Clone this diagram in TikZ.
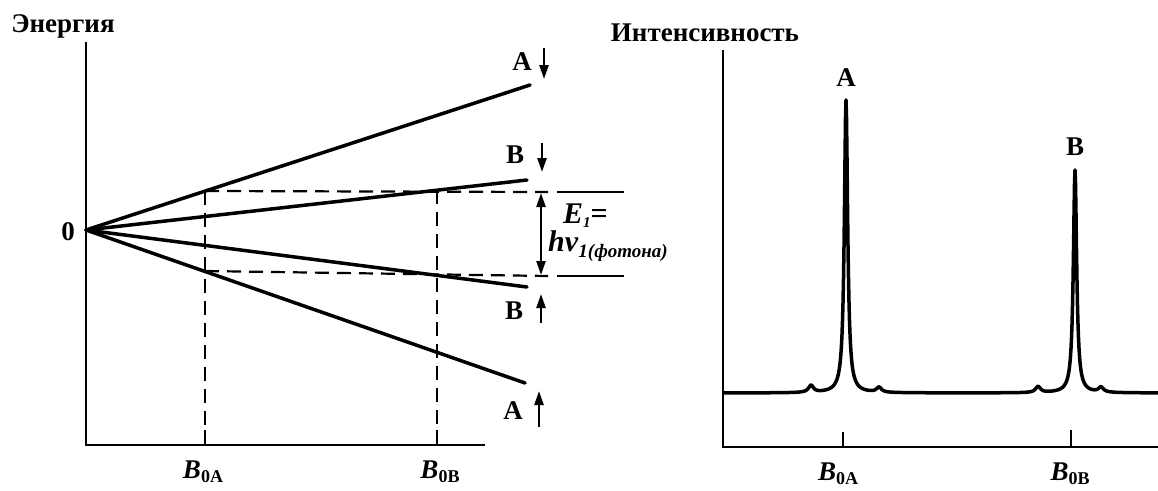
\documentclass[tikz,border=0pt]{standalone}
\usepackage{fontspec}
\setmainfont{Liberation Serif}
\usetikzlibrary{arrows.meta}
\newcommand{\bsub}[2]{{\bfseries\itshape #1}\raisebox{-0.35ex}{\fontsize{18}{20}\selectfont\bfseries #2}}
\begin{document}
\begin{tikzpicture}[x=1pt,y=-1pt,
  axis/.style={line width=2.8pt},
  level/.style={line width=3.5pt,line cap=round},
  guide/.style={line width=2.2pt,dash pattern=on 14pt off 8pt},
  lbl/.style={font=\fontsize{27}{30}\selectfont\bfseries,inner sep=0pt},
  spin/.style={-{Triangle[length=14pt,width=9pt]},line width=2.4pt},
  gap/.style={{Triangle[length=14pt,width=9pt]}-{Triangle[length=14pt,width=9pt]},line width=2.4pt},
  spec/.style={line width=3.5pt,line join=round}]
\useasboundingbox (0,0) rectangle (1158,490);
% ---------- left panel ----------
\coordinate (Ltop) at (86,42);
\coordinate (Lorig) at (86,445);
\coordinate (Lend) at (485,445);
\draw[axis] (Ltop) -- (Lorig) -- (Lend);
\coordinate (O) at (86,230);
\coordinate (Au) at (530,85);
\coordinate (Bu) at (527,180);
\coordinate (Bd) at (527,287);
\coordinate (Ad) at (525,383);
\draw[level] (O) -- (Au);
\draw[level] (O) -- (Bu);
\draw[level] (O) -- (Bd);
\draw[level] (O) -- (Ad);
% guides
\coordinate (P1) at (205,191);
\coordinate (P2) at (437,190);
\coordinate (P3) at (437,275);
\coordinate (P4) at (205,271);
\coordinate (T1) at (205,445);
\coordinate (T2) at (437,445);
\coordinate (T1u) at (205,430);
\coordinate (T2u) at (437,430);
\draw[line width=2.6pt] (T1) -- (T1u);
\draw[line width=2.6pt] (T2) -- (T2u);
\draw[guide] (P1) -- (T1u);
\draw[guide] (P2) -- (T2u);
\coordinate (H1a) at (548,192);
\coordinate (H1b) at (557,192);
\coordinate (H1c) at (624,192);
\coordinate (H2a) at (548,276);
\coordinate (H2b) at (557,276);
\coordinate (H2c) at (624,276);
\draw[guide] (P1) -- (H1a);
\draw[guide] (P4) -- (H2a);
\draw[line width=2.2pt] (H1b) -- (H1c);
\draw[line width=2.2pt] (H2b) -- (H2c);
\coordinate (E1) at (541,193);
\coordinate (E2) at (541,275);
\draw[gap] (E1) -- (E2);
\node[lbl,anchor=west,font=\fontsize{30}{32}\selectfont\bfseries] (eq1) at (563,216) {\textit{E}\raisebox{-0.3ex}{\fontsize{15}{16}\selectfont\textit{1}}=};
\node[lbl,anchor=west,font=\fontsize{30}{32}\selectfont\bfseries] (eq2) at (548,246) {\textit{hv}\raisebox{-0.45ex}{\fontsize{19}{21}\selectfont\textit{1(фотона)}}};
% spin labels
\node[lbl] (lAu) at (522,62) {A};
\node[lbl] (lBu) at (515,155) {B};
\node[lbl] (lBd) at (514,311) {B};
\node[lbl] (lAd) at (513,411) {A};
\coordinate (s1a) at (544,48);  \coordinate (s1b) at (544,79);
\coordinate (s2a) at (542,143); \coordinate (s2b) at (542,172);
\coordinate (s3a) at (541,323); \coordinate (s3b) at (541,294);
\coordinate (s4a) at (539,427); \coordinate (s4b) at (539,391);
\draw[spin] (s1a) -- (s1b);
\draw[spin] (s2a) -- (s2b);
\draw[spin] (s3a) -- (s3b);
\draw[spin] (s4a) -- (s4b);
\node[lbl] (zero) at (68,232) {0};
\node[lbl] (ylab) at (63,26) {Энергия};
\node[lbl] (bA) at (203,472) {\bsub{B}{0A}};
\node[lbl] (bB) at (440,472) {\bsub{B}{0B}};
% ---------- right panel ----------
\coordinate (Rtop) at (723,50);
\coordinate (Rorig) at (723,447);
\coordinate (Rend) at (1158,447);
\draw[axis] (Rtop) -- (Rorig) -- (Rend);
\coordinate (r1) at (843,447); \coordinate (r1u) at (843,432);
\coordinate (r2) at (1071,447); \coordinate (r2u) at (1071,430);
\draw[line width=2.6pt] (r1) -- (r1u);
\draw[line width=2.6pt] (r2) -- (r2u);
\draw[spec] plot[domain=723:1158,samples=871]
  (\x,{393 - 293*0.04/(((\x-846)/10)^2+0.04) - 223*0.04/(((\x-1075)/10)^2+0.04)
   - 7*0.09/(((\x-811)/10)^2+0.09) - 5*0.09/(((\x-879)/10)^2+0.09)
   - 6*0.09/(((\x-1038)/10)^2+0.09) - 5*0.09/(((\x-1101)/10)^2+0.09)});
\node[lbl] (pA) at (846,78) {A};
\node[lbl] (pB) at (1075,147) {B};
\node[lbl] (ilab) at (705,33) {Интенсивность};
\node[lbl] (rbA) at (838,474) {\bsub{B}{0A}};
\node[lbl] (rbB) at (1070,474) {\bsub{B}{0B}};
\end{tikzpicture}
\end{document}
